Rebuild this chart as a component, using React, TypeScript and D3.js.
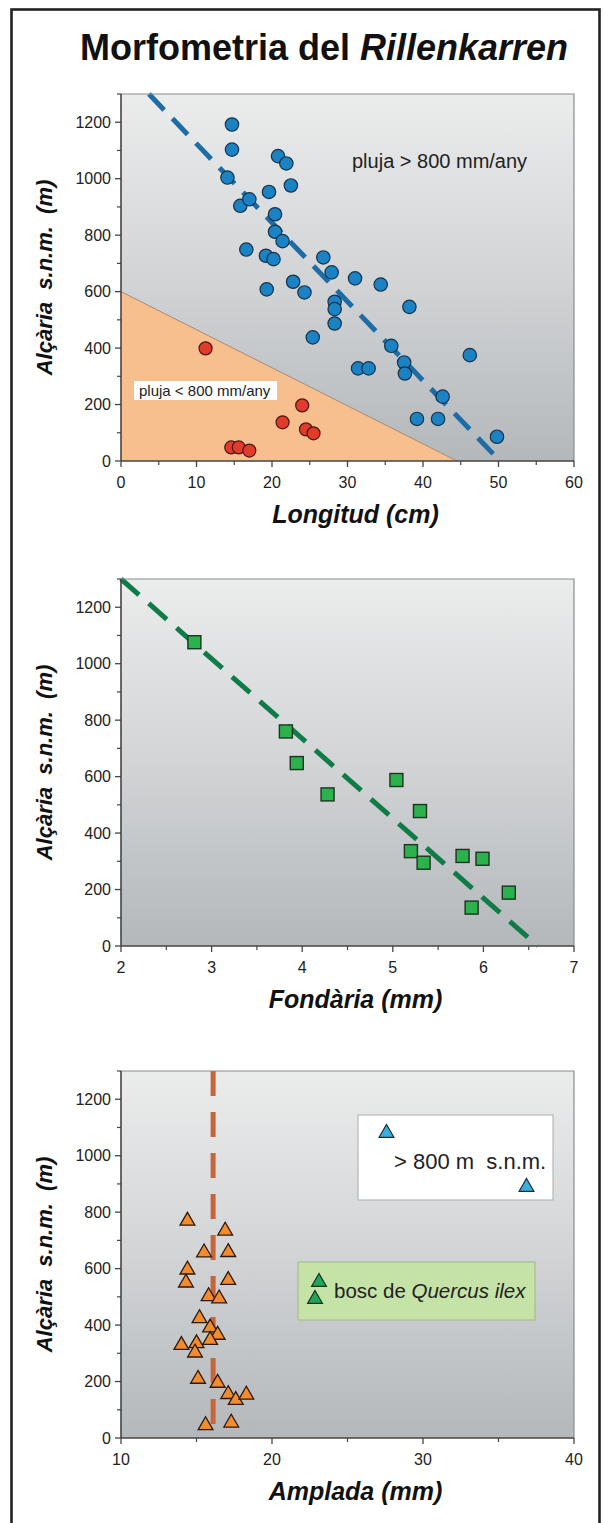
import React from 'react';
import * as d3 from 'd3';

const FONT = '"Liberation Sans", Arial, Helvetica, sans-serif';

// shared altitude axis
const yTicks = [0, 200, 400, 600, 800, 1000, 1200];
const yMinor = [100, 300, 500, 700, 900, 1100, 1300];

// panel 1: longitud (cm)
const longTicks = [0, 10, 20, 30, 40, 50, 60];
const longMinor = [5, 15, 25, 35, 45, 55];
const wetPoints: [number, number][] = [
  [14.7, 1192], [14.7, 1103], [14.1, 1004], [19.6, 953], [15.8, 904], [17.0, 927],
  [20.8, 1080], [21.9, 1054], [22.5, 976], [20.4, 874], [20.4, 812], [21.4, 779],
  [16.6, 749], [19.2, 727], [20.2, 715], [26.8, 721], [27.9, 668], [31.0, 647],
  [19.3, 608], [22.8, 635], [24.3, 597], [28.3, 564], [28.3, 538], [28.3, 487],
  [25.4, 438], [34.4, 625], [38.2, 546], [35.8, 408], [46.2, 375], [31.4, 328],
  [32.8, 328], [37.5, 349], [37.6, 310], [42.6, 228], [39.2, 149], [42.0, 149],
  [49.8, 86],
];
const dryPoints: [number, number][] = [
  [11.2, 399], [24.0, 197], [21.4, 137], [24.5, 112], [25.5, 98],
  [14.6, 48], [15.6, 48], [17.0, 37],
];
const dryZone: [number, number][] = [[0, 0], [0, 600], [44.5, 0]];
const longFit: [number, number][] = [[3.7, 1300], [50.2, 0]];

// panel 2: fondaria (mm)
const fondTicks = [2, 3, 4, 5, 6, 7];
const fondMinor = [2.5, 3.5, 4.5, 5.5, 6.5];
const fondPoints: [number, number][] = [
  [2.81, 1076], [3.82, 760], [3.94, 648], [4.28, 537], [5.04, 588], [5.30, 478],
  [5.20, 336], [5.34, 295], [5.77, 319], [5.99, 309], [6.28, 189], [5.87, 136],
];
const fondFit: [number, number][] = [[2.0, 1300], [6.6, 0]];

// panel 3: amplada (mm)
const amplTicks = [10, 20, 30, 40];
const amplMinor = [15, 25, 35];
const amplPoints: [number, number][] = [
  [14.4, 769], [16.9, 734], [15.5, 657], [17.1, 658], [14.4, 596], [14.3, 550],
  [17.1, 559], [15.8, 502], [16.5, 494], [15.2, 424], [15.9, 391], [16.4, 365],
  [15.9, 347], [14.0, 329], [15.0, 335], [14.9, 302], [15.1, 209], [16.4, 195],
  [17.1, 155], [17.6, 134], [18.3, 153], [15.6, 45], [17.3, 54],
];
const amplMean = 16.1;

const plotLeft = 121;
const plotRight = 574;
const plotH = 367;
const panelTops = [94, 579, 1071];

const tri = d3.symbol(d3.symbolTriangle, 95)();

function Frame({ x, y, top, xTicks, xMinor, xTitle, children }: any) {
  const bottom = top + plotH;
  return (
    <g>
      <rect x={plotLeft} y={top} width={plotRight - plotLeft} height={plotH} fill="url(#bg)" />
      {children}
      <path d={`M${plotLeft},${top}H${plotRight}V${bottom}`} fill="none" stroke="#8a8c8e" strokeWidth={1.2} />
      <line x1={plotLeft} x2={plotLeft} y1={top} y2={bottom} stroke="#444" strokeWidth={1.6} />
      <line x1={plotLeft} x2={plotRight} y1={bottom} y2={bottom} stroke="#444" strokeWidth={1.6} />
      {yTicks.map(t => (
        <g key={'y' + t}>
          <line x1={plotLeft - 6} x2={plotLeft} y1={y(t)} y2={y(t)} stroke="#444" strokeWidth={1.3} />
          <text x={plotLeft - 10} y={y(t)} dy="0.36em" textAnchor="end" fontSize={16} fill="#222">{t}</text>
        </g>
      ))}
      {yMinor.map(t => (
        <line key={'ym' + t} x1={plotLeft - 4} x2={plotLeft} y1={y(t)} y2={y(t)} stroke="#444" strokeWidth={1.2} />
      ))}
      {xTicks.map((t: number) => (
        <g key={'x' + t}>
          <line x1={x(t)} x2={x(t)} y1={bottom} y2={bottom + 6} stroke="#444" strokeWidth={1.3} />
          <text x={x(t)} y={bottom + 27} textAnchor="middle" fontSize={16} fill="#222">{t}</text>
        </g>
      ))}
      {xMinor.map((t: number) => (
        <line key={'xm' + t} x1={x(t)} x2={x(t)} y1={bottom} y2={bottom + 4} stroke="#444" strokeWidth={1.2} />
      ))}
      <text x={(plotLeft + plotRight) / 2 + 8} y={bottom + 62} textAnchor="middle" fontSize={25}
        fontWeight="bold" fontStyle="italic" fill="#111">{xTitle}</text>
      <text transform={`translate(52,${top + plotH / 2}) rotate(-90)`} textAnchor="middle" fontSize={22}
        fontWeight="bold" fontStyle="italic" fill="#111" style={{ whiteSpace: 'pre' }}>
        {'Alçària  s.n.m.  (m)'}
      </text>
    </g>
  );
}

export default function App() {
  const makeY = (top: number) => d3.scaleLinear().domain([0, 1300]).range([top + plotH, top]);
  const y1 = makeY(panelTops[0]);
  const y2 = makeY(panelTops[1]);
  const y3 = makeY(panelTops[2]);
  const x1 = d3.scaleLinear().domain([0, 60]).range([plotLeft, plotRight]);
  const x2 = d3.scaleLinear().domain([2, 7]).range([plotLeft, plotRight]);
  const x3 = d3.scaleLinear().domain([10, 40]).range([plotLeft, plotRight]);

  const line1 = d3.line<[number, number]>().x(d => x1(d[0])).y(d => y1(d[1]));
  const line2 = d3.line<[number, number]>().x(d => x2(d[0])).y(d => y2(d[1]));
  const zone = d3.line<[number, number]>().x(d => x1(d[0])).y(d => y1(d[1]));

  const t3 = panelTops[2];

  return (
    <svg width={606} height={1523} style={{ position: 'absolute', left: 0, top: 0, fontFamily: FONT }}>
      <defs>
        <linearGradient id="bg" x1="0" y1="0" x2="0" y2="1">
          <stop offset="0" stopColor="#ebecec" />
          <stop offset="0.5" stopColor="#d2d4d6" />
          <stop offset="1" stopColor="#b4b8bb" />
        </linearGradient>
      </defs>
      <rect x={0} y={0} width={606} height={1523} fill="#fff" />
      <rect x={11.5} y={9.5} width={588} height={1520} fill="none" stroke="#222" strokeWidth={2.6} />

      <text x={324} y={60} textAnchor="middle" fontSize={36} fontWeight="bold" fill="#111">
        Morfometria del <tspan fontStyle="italic">Rillenkarren</tspan>
      </text>

      {/* panel 1 */}
      <Frame x={x1} y={y1} top={panelTops[0]} xTicks={longTicks} xMinor={longMinor} xTitle="Longitud (cm)">
        <path d={zone(dryZone) + 'Z'} fill="#f8bf8e" />
        <line x1={x1(dryZone[1][0])} y1={y1(dryZone[1][1])} x2={x1(dryZone[2][0])} y2={y1(dryZone[2][1])}
          stroke="#a98a78" strokeWidth={1} />
        <rect x={134} y={381} width={143} height={19} fill="#fff" />
        <text x={139} y={396} fontSize={15} fill="#222">pluja &lt; 800 mm/any</text>
        <text x={352} y={168} fontSize={20} fill="#222">pluja &gt; 800 mm/any</text>
        <path d={line1(longFit) || ''} fill="none" stroke="#1d6ca6" strokeWidth={5} strokeDasharray="22 12" />
        {wetPoints.map((d, i) => (
          <circle key={'w' + i} cx={x1(d[0])} cy={y1(d[1])} r={6.7} fill="#1b82c4" stroke="#16324a" strokeWidth={1.2} />
        ))}
        {dryPoints.map((d, i) => (
          <circle key={'d' + i} cx={x1(d[0])} cy={y1(d[1])} r={6.5} fill="#e23a2b" stroke="#4a1812" strokeWidth={1.2} />
        ))}
      </Frame>

      {/* panel 2 */}
      <Frame x={x2} y={y2} top={panelTops[1]} xTicks={fondTicks} xMinor={fondMinor} xTitle="Fondària (mm)">
        <path d={line2(fondFit) || ''} fill="none" stroke="#0f7b47" strokeWidth={5} strokeDasharray="24 13" />
        {fondPoints.map((d, i) => (
          <rect key={'f' + i} x={x2(d[0]) - 6.5} y={y2(d[1]) - 6.5} width={13} height={13}
            fill="#2bb24c" stroke="#1d3323" strokeWidth={1.4} />
        ))}
      </Frame>

      {/* panel 3 */}
      <Frame x={x3} y={y3} top={t3} xTicks={amplTicks} xMinor={amplMinor} xTitle="Amplada (mm)">
        <line x1={x3(amplMean)} x2={x3(amplMean)} y1={y3(1300)} y2={y3(40)} stroke="#c8643c" strokeWidth={5}
          strokeDasharray="25 16" />
        <rect x={358} y={t3 + 44} width={195} height={85} fill="#fff" stroke="#a9abad" strokeWidth={1} />
        <path d={tri} transform={`translate(386.5,${t3 + 62})`} fill="#3aaee0" stroke="#1c2a33" strokeWidth={1.2} />
        <path d={tri} transform={`translate(526.5,${t3 + 116})`} fill="#3aaee0" stroke="#1c2a33" strokeWidth={1.2} />
        <text x={394} y={t3 + 98} fontSize={22} fill="#222" style={{ whiteSpace: 'pre' }}>{'> 800 m  s.n.m.'}</text>
        <rect x={298} y={t3 + 191} width={237} height={58} fill="#c6e3a7" stroke="#9eb888" strokeWidth={1} />
        <path d={tri} transform={`translate(319,${t3 + 211})`} fill="#1ea659" stroke="#1b2e20" strokeWidth={1.2} />
        <path d={tri} transform={`translate(315,${t3 + 228})`} fill="#1ea659" stroke="#1b2e20" strokeWidth={1.2} />
        <text x={334} y={t3 + 227} fontSize={20.5} fill="#222">
          bosc de <tspan fontStyle="italic">Quercus ilex</tspan>
        </text>
        {amplPoints.map((d, i) => (
          <path key={'a' + i} d={tri} transform={`translate(${x3(d[0])},${y3(d[1])})`}
            fill="#f28c2e" stroke="#2b1a0e" strokeWidth={1.3} />
        ))}
      </Frame>
    </svg>
  );
}
